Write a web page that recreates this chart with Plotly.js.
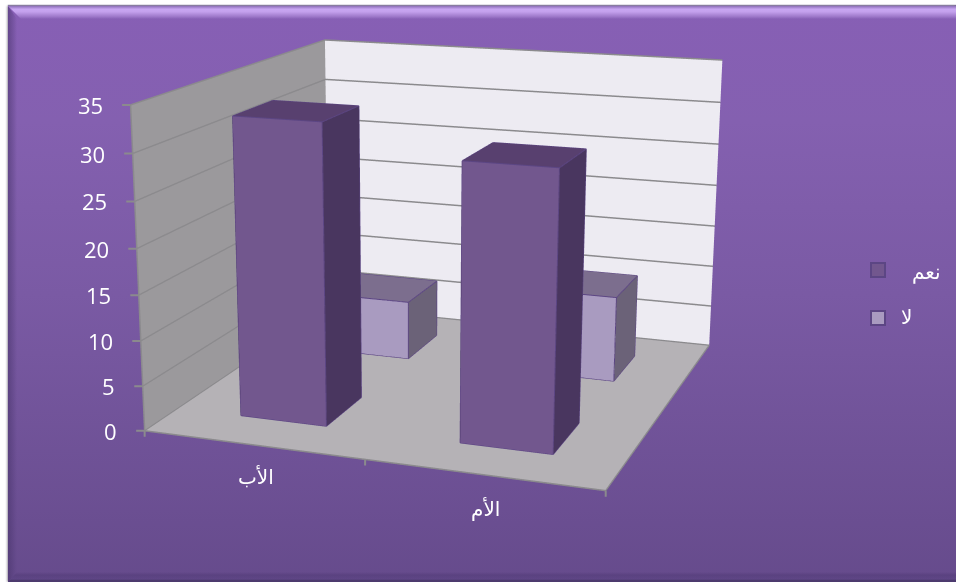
<!DOCTYPE html>
<html>
<head>
<meta charset="utf-8">
<script src="https://cdn.plot.ly/plotly-3.0.1.min.js"></script>
<style>
  html, body { margin: 0; padding: 0; width: 956px; height: 582px; overflow: hidden; background: #fff; }
  #panel { position: absolute; left: 8px; top: 6px; width: 948px; height: 576px;
           background: linear-gradient(180deg, #875fb5 0%, #8460b0 20%, #7a5aa4 50%, #664b8c 100%);
           box-shadow: -1px 0 2px #a9a5ad, 0 -1px 1px #7a6a98; }
  .bevel { position: absolute; }
  #bevel-top { left: 8px; top: 6px; width: 948px; height: 13px;
               background: linear-gradient(180deg, #8d6fb8 0%, #c8a6f2 25%, #c3a0ec 45%, #9f7acb 80%, rgba(135,95,181,0) 100%);
               clip-path: polygon(0 0, 100% 0, 100% 100%, 13px 100%); }
  #bevel-left { left: 8px; top: 6px; width: 9px; height: 576px;
                background: linear-gradient(90deg, rgba(70,50,105,0.55) 0%, rgba(80,58,118,0.22) 70%, rgba(90,65,130,0) 100%);
                clip-path: polygon(0 0, 100% 13px, 100% calc(100% - 10px), 0 100%); }
  #bevel-bottom { left: 8px; top: 572px; width: 948px; height: 10px;
                  background: linear-gradient(180deg, rgba(80,58,118,0) 0%, rgba(80,58,118,0.55) 30%, rgba(85,62,125,0.45) 70%, #4c3a6e 85%, #4c3a6e 100%);
                  clip-path: polygon(9px 0, 100% 0, 100% 100%, 0 100%); }
  #chart { position: absolute; left: -351px; top: -454px; }
</style>
</head>
<body>
<div id="panel"></div>
<div class="bevel" id="bevel-left"></div>
<div class="bevel" id="bevel-top"></div>
<div class="bevel" id="bevel-bottom"></div>
<div id="chart"></div>
<script>
// Parents answering yes / no, drawn as a clustered 3D column chart.
var categories = ['الأب', 'الأم'];
var seriesNames = ['نعم', 'لا'];
var yesValues = [33, 30];
var noValues = [7, 10];
var valueTicks = [0, 5, 10, 15, 20, 25, 30, 35];
var categoryTicks = [0, 1, 2];

// The scene needs a narrow field of view, so the plot is larger than the window.
var SIZE = 1533, LEFT = -351, TOP = -454;
var paperX = function (px) { return (px - LEFT) / SIZE; };
var paperY = function (py) { return 1 - (py - TOP) / SIZE; };

// Column footprint inside each category slot and series lane.
var slotInset = 0.3, laneInset = 0.155;

function buildColumns(values, lane, colors, name) {
  var x = [], y = [], z = [], i = [], j = [], k = [], facecolor = [];
  var ex = [], ey = [], ez = [];
  values.forEach(function (v, c) {
    var x0 = c + slotInset, x1 = c + 1 - slotInset;
    var y0 = lane * 0.5 + laneInset, y1 = y0 + 0.2;
    var n = x.length;
    x.push(x0, x1, x1, x0, x0, x1, x1, x0);
    y.push(y0, y0, y1, y1, y0, y0, y1, y1);
    z.push(0, 0, 0, 0, v, v, v, v);
    var faces = [
      [0, 1, 5, colors.front], [0, 5, 4, colors.front],
      [1, 2, 6, colors.side], [1, 6, 5, colors.side],
      [4, 5, 6, colors.top], [4, 6, 7, colors.top],
      [0, 3, 2, colors.side], [0, 2, 1, colors.side],
      [3, 7, 6, colors.side], [3, 6, 2, colors.side],
      [0, 4, 7, colors.side], [0, 7, 3, colors.side]
    ];
    faces.forEach(function (f) {
      i.push(n + f[0]); j.push(n + f[1]); k.push(n + f[2]); facecolor.push(f[3]);
    });
    [[0,1],[1,2],[4,5],[5,6],[6,7],[7,4],[0,4],[1,5],[2,6]].forEach(function (e) {
      ex.push(x[n + e[0]], x[n + e[1]], null);
      ey.push(y[n + e[0]], y[n + e[1]], null);
      ez.push(z[n + e[0]], z[n + e[1]], null);
    });
  });
  return [
    { type: 'mesh3d', x: x, y: y, z: z, i: i, j: j, k: k, facecolor: facecolor, flatshading: true,
      lighting: { ambient: 1, diffuse: 0, specular: 0, fresnel: 0, roughness: 1 },
      hoverinfo: 'skip', showlegend: false, name: name, showscale: false },
    { type: 'scatter3d', mode: 'lines', x: ex, y: ey, z: ez,
      line: { color: colors.edge, width: 2 }, hoverinfo: 'skip', showlegend: false }
  ];
}

var yesColors = { front: '#72578e', side: '#49365f', top: '#58406f', edge: '#5c4684' };
var noColors = { front: '#a99bc0', side: '#6b6278', top: '#7c6e8e', edge: '#5c4684' };

var traces = [].concat(
  buildColumns(yesValues, 0, yesColors, seriesNames[0]),
  buildColumns(noValues, 1, noColors, seriesNames[1])
);

var grid = '#8b8a8d';
var digitFont = { family: 'Open Sans, Liberation Sans, sans-serif', size: 22, color: '#ffffff' };
var arabicFont = { family: 'Noto Sans, DejaVu Sans, sans-serif', size: 20, color: '#ffffff' };

// A tick is a short leader pointing at its position on the axis edge.
function tickMark(x, z, ax, ay) {
  return { x: x, y: 0, z: z, text: ' ', font: { size: 1 }, borderpad: 0, showarrow: true,
           arrowhead: 0, arrowwidth: 2, arrowcolor: grid, ax: ax, ay: ay, standoff: 0 };
}

var sceneNotes = [];
valueTicks.forEach(function (v) {
  sceneNotes.push(tickMark(0, v, -9, 0));
  sceneNotes.push({ x: 0, y: 0, z: v, text: String(v), showarrow: false, xanchor: 'right', yanchor: 'middle',
                    xshift: -26, yshift: 0, font: digitFont });
});
categoryTicks.forEach(function (c) { sceneNotes.push(tickMark(c, 0, 0, 7)); });
// Category names hang below the middle of each slot on the front edge.
categories.forEach(function (name, c) {
  sceneNotes.push({ x: c + 0.5, y: 0, z: 0, text: name, showarrow: false, xanchor: 'center', yanchor: 'middle',
                    xshift: 3, yshift: c === 0 ? -32 : -34, font: arabicFont });
});

function legendNote(text, px, py) {
  return { text: text, x: paperX(px), y: paperY(py), xref: 'paper', yref: 'paper', showarrow: false,
           xanchor: 'center', yanchor: 'middle', font: arabicFont };
}
function legendSwatch(color, py) {
  return { type: 'rect', xref: 'paper', yref: 'paper', x0: paperX(871), x1: paperX(885),
           y0: paperY(py - 7), y1: paperY(py + 7), fillcolor: color, line: { color: '#5c4684', width: 2 } };
}

var layout = {
  width: SIZE, height: SIZE, margin: { l: 0, r: 0, t: 0, b: 0 },
  paper_bgcolor: 'rgba(0,0,0,0)', showlegend: false,
  scene: {
    domain: { x: [0, 1], y: [0, 1] },
    bgcolor: 'rgba(0,0,0,0)',
    dragmode: false,
    aspectmode: 'manual',
    aspectratio: { x: 0.987, y: 1, z: 0.685 },
    camera: {
      eye: { x: 1.277, y: -3.726, z: 0.968 },
      center: { x: -0.0497, y: -0.0677, z: -0.1597 },
      up: { x: 0, y: 0, z: 1 }
    },
    annotations: sceneNotes,
    xaxis: { range: [0, 2], tickvals: categoryTicks, ticks: '',
             showticklabels: false, showgrid: false, zeroline: false, title: { text: '' },
             showbackground: true, backgroundcolor: '#9b999c', showline: true, linecolor: grid, linewidth: 3, showspikes: false },
    yaxis: { range: [0, 1], tickvals: [0, 1], showticklabels: false, showgrid: false, zeroline: false,
             title: { text: '' }, showbackground: true, backgroundcolor: '#edebf2', showline: true, linecolor: grid, linewidth: 3, showspikes: false, ticks: '' },
    zaxis: { range: [0, 35], tickvals: valueTicks, ticks: '',
             showticklabels: false, gridcolor: grid, gridwidth: 3, zeroline: false, title: { text: '' },
             showbackground: true, backgroundcolor: '#b5b2b6', showline: true, linecolor: grid, linewidth: 3, showspikes: false }
  },
  annotations: [ legendNote(seriesNames[0], 926.5, 271), legendNote(seriesNames[1], 906, 316) ],
  shapes: [ legendSwatch(yesColors.front, 270), legendSwatch(noColors.front, 318) ]
};

Plotly.newPlot('chart', traces, layout, { displayModeBar: false, responsive: false });
</script>
</body>
</html>
